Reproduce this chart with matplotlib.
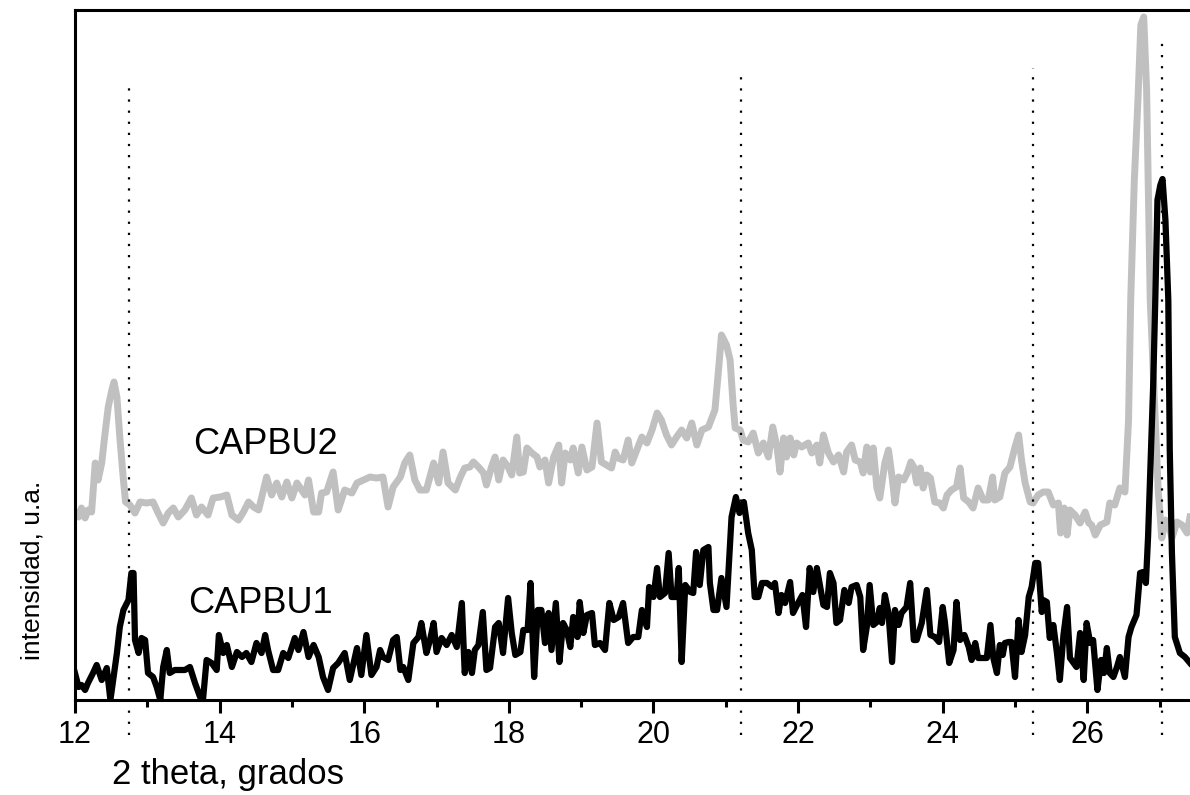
import matplotlib
matplotlib.use('Agg')
import matplotlib.pyplot as plt

# CAPBU2 (gris)
theta_capbu2 = [12.00, 12.05, 12.09, 12.14, 12.18, 12.23, 12.28, 12.32, 12.37, 12.41,
                12.46, 12.51, 12.54, 12.58, 12.62, 12.67, 12.70, 12.76, 12.83, 12.90,
                12.99, 13.08, 13.15, 13.22, 13.29, 13.36, 13.43, 13.52, 13.61, 13.68,
                13.75, 13.84, 13.91, 14.01, 14.10, 14.17, 14.26, 14.33, 14.40, 14.47,
                14.54, 14.58, 14.65, 14.72, 14.79, 14.86, 14.93, 15.00, 15.07, 15.18,
                15.23, 15.30, 15.37, 15.41, 15.48, 15.57, 15.64, 15.73, 15.83, 15.90,
                15.99, 16.08, 16.17, 16.26, 16.33, 16.40, 16.50, 16.56, 16.63, 16.70,
                16.77, 16.86, 16.96, 17.03, 17.09, 17.16, 17.26, 17.33, 17.39, 17.46,
                17.51, 17.58, 17.65, 17.69, 17.76, 17.81, 17.86, 17.92, 17.99, 18.04,
                18.11, 18.15, 18.20, 18.25, 18.32, 18.39, 18.43, 18.50, 18.55, 18.62,
                18.69, 18.73, 18.78, 18.85, 18.89, 18.96, 19.01, 19.08, 19.15, 19.22,
                19.28, 19.35, 19.42, 19.47, 19.51, 19.58, 19.65, 19.70, 19.77, 19.84,
                19.91, 19.98, 20.05, 20.11, 20.18, 20.25, 20.32, 20.39, 20.46, 20.53,
                20.60, 20.67, 20.76, 20.85, 20.90, 20.94, 21.01, 21.06, 21.10, 21.13,
                21.20, 21.24, 21.31, 21.38, 21.45, 21.52, 21.59, 21.65, 21.71, 21.75,
                21.80, 21.84, 21.89, 21.94, 21.98, 22.05, 22.14, 22.19, 22.26, 22.30,
                22.35, 22.42, 22.49, 22.56, 22.63, 22.67, 22.74, 22.79, 22.86, 22.90,
                22.95, 23.00, 23.04, 23.09, 23.13, 23.20, 23.25, 23.30, 23.34, 23.39,
                23.46, 23.51, 23.56, 23.60, 23.64, 23.69, 23.73, 23.78, 23.83, 23.89,
                23.96, 24.01, 24.06, 24.12, 24.19, 24.24, 24.29, 24.36, 24.42, 24.49,
                24.56, 24.63, 24.69, 24.72, 24.79, 24.86, 24.93, 25.00, 25.05, 25.09,
                25.14, 25.21, 25.25, 25.32, 25.39, 25.46, 25.53, 25.60, 25.63, 25.68,
                25.72, 25.76, 25.83, 25.90, 25.97, 26.02, 26.06, 26.11, 26.18, 26.27,
                26.31, 26.38, 26.45, 26.52, 26.57, 26.60, 26.65, 26.70, 26.74, 26.78,
                26.82, 26.87, 26.91, 26.94, 26.98, 27.03, 27.08, 27.12, 27.17, 27.24,
                27.31, 27.38, 27.42]
int_capbu2 = [188, 183, 192, 182, 190, 188, 237, 220, 237, 263,
              293, 310, 318, 303, 263, 220, 198, 195, 187, 198,
              197, 198, 187, 177, 187, 192, 183, 190, 202, 185,
              193, 185, 202, 203, 205, 185, 180, 188, 198, 193,
              190, 202, 223, 205, 217, 203, 218, 202, 217, 205,
              220, 188, 188, 207, 208, 228, 190, 210, 207, 217,
              220, 223, 222, 223, 193, 213, 223, 237, 245, 220,
              210, 210, 237, 217, 248, 217, 210, 223, 232, 233,
              238, 233, 227, 215, 233, 243, 220, 240, 233, 225,
              263, 227, 228, 252, 247, 243, 233, 240, 217, 243,
              255, 217, 247, 240, 252, 227, 253, 230, 233, 277,
              238, 235, 232, 248, 242, 240, 260, 237, 250, 263,
              257, 270, 287, 280, 265, 255, 263, 270, 262, 277,
              255, 270, 273, 290, 330, 365, 355, 340, 297, 272,
              270, 260, 258, 267, 247, 257, 243, 273, 252, 228,
              262, 243, 262, 245, 257, 253, 257, 247, 255, 237,
              265, 247, 238, 245, 228, 248, 255, 240, 238, 227,
              253, 228, 252, 212, 202, 237, 250, 223, 197, 223,
              220, 227, 238, 233, 217, 232, 212, 225, 222, 198,
              197, 192, 205, 210, 213, 232, 202, 198, 192, 212,
              200, 200, 223, 200, 203, 227, 233, 253, 265, 240,
              217, 198, 197, 205, 208, 208, 195, 197, 167, 192,
              165, 190, 185, 177, 188, 177, 175, 165, 175, 178,
              197, 195, 212, 208, 280, 400, 520, 600, 675, 683,
              610, 400, 330, 280, 210, 162, 180, 177, 162, 178,
              175, 167, 183]

# CAPBU1 (negro)
theta_capbu1 = [12.00, 12.05, 12.09, 12.14, 12.18, 12.25, 12.30, 12.37, 12.44, 12.49,
                12.58, 12.62, 12.67, 12.74, 12.78, 12.81, 12.83, 12.88, 12.92, 12.97,
                13.01, 13.08, 13.13, 13.18, 13.22, 13.27, 13.31, 13.38, 13.45, 13.52,
                13.59, 13.66, 13.73, 13.77, 13.82, 13.89, 13.96, 13.99, 14.05, 14.10,
                14.17, 14.24, 14.31, 14.37, 14.44, 14.51, 14.58, 14.63, 14.67, 14.74,
                14.81, 14.88, 14.95, 15.04, 15.09, 15.16, 15.23, 15.30, 15.37, 15.43,
                15.50, 15.57, 15.64, 15.73, 15.80, 15.90, 15.96, 16.03, 16.10, 16.17,
                16.22, 16.26, 16.33, 16.40, 16.45, 16.50, 16.54, 16.61, 16.68, 16.75,
                16.79, 16.86, 16.91, 16.96, 17.00, 17.07, 17.14, 17.21, 17.28, 17.35,
                17.39, 17.44, 17.49, 17.53, 17.58, 17.64, 17.69, 17.74, 17.81, 17.86,
                17.92, 17.99, 18.04, 18.09, 18.16, 18.20, 18.26, 18.30, 18.35, 18.40,
                18.45, 18.50, 18.55, 18.59, 18.65, 18.70, 18.75, 18.80, 18.85, 18.89,
                18.95, 18.98, 19.03, 19.08, 19.15, 19.19, 19.26, 19.33, 19.39, 19.45,
                19.52, 19.58, 19.65, 19.72, 19.79, 19.84, 19.91, 19.94, 20.00, 20.05,
                20.09, 20.16, 20.21, 20.25, 20.32, 20.35, 20.39, 20.44, 20.51, 20.55,
                20.59, 20.64, 20.69, 20.76, 20.78, 20.83, 20.88, 20.94, 21.01, 21.08,
                21.14, 21.19, 21.25, 21.31, 21.36, 21.40, 21.45, 21.50, 21.57, 21.64,
                21.68, 21.73, 21.77, 21.82, 21.89, 21.93, 22.00, 22.06, 22.11, 22.16,
                22.21, 22.26, 22.35, 22.40, 22.44, 22.49, 22.53, 22.58, 22.64, 22.70,
                22.74, 22.81, 22.86, 22.90, 22.95, 22.99, 23.04, 23.09, 23.13, 23.16,
                23.20, 23.25, 23.30, 23.34, 23.39, 23.43, 23.50, 23.55, 23.60, 23.64,
                23.71, 23.78, 23.83, 23.89, 23.95, 24.00, 24.03, 24.09, 24.15, 24.19,
                24.24, 24.30, 24.36, 24.40, 24.45, 24.49, 24.56, 24.61, 24.66, 24.70,
                24.75, 24.79, 24.83, 24.86, 24.91, 24.95, 25.00, 25.05, 25.09, 25.14,
                25.19, 25.23, 25.28, 25.32, 25.37, 25.39, 25.44, 25.48, 25.53, 25.58,
                25.62, 25.67, 25.72, 25.76, 25.81, 25.85, 25.90, 25.95, 25.99, 26.04,
                26.08, 26.14, 26.19, 26.23, 26.27, 26.31, 26.36, 26.41, 26.45, 26.52,
                26.57, 26.61, 26.68, 26.73, 26.77, 26.81, 26.84, 26.88, 26.91, 26.94,
                26.97, 27.01, 27.04, 27.08, 27.12, 27.14, 27.17, 27.21, 27.28, 27.35,
                27.42]
int_capbu1 = [27, 13, 15, 10, 17, 27, 35, 20, 32, 0,
              47, 73, 90, 100, 127, 127, 60, 47, 62, 60,
              27, 23, 13, 0, 33, 50, 27, 30, 30, 30,
              33, 17, 3, 0, 40, 37, 30, 65, 47, 55,
              33, 48, 43, 47, 38, 57, 47, 65, 50, 30,
              30, 47, 42, 62, 50, 68, 43, 55, 43, 23,
              10, 32, 37, 47, 20, 52, 25, 65, 25, 33,
              50, 43, 40, 60, 63, 30, 33, 20, 57, 63,
              77, 47, 60, 77, 48, 62, 55, 65, 53, 97,
              27, 48, 27, 50, 55, 88, 30, 32, 73, 77,
              47, 102, 67, 45, 48, 70, 70, 117, 23, 90,
              90, 57, 87, 50, 97, 38, 77, 70, 53, 83,
              63, 98, 67, 85, 87, 55, 57, 50, 97, 80,
              83, 97, 57, 63, 63, 90, 73, 113, 103, 132,
              103, 107, 147, 103, 103, 132, 38, 115, 108, 107,
              148, 115, 150, 153, 117, 90, 90, 122, 93, 183,
              203, 187, 198, 167, 150, 103, 103, 117, 117, 113,
              117, 87, 105, 97, 118, 87, 97, 105, 73, 132,
              108, 132, 95, 93, 127, 117, 77, 80, 110, 97,
              113, 115, 103, 50, 73, 115, 75, 78, 92, 77,
              105, 87, 38, 90, 75, 87, 93, 117, 60, 60,
              77, 110, 65, 63, 58, 93, 78, 37, 50, 98,
              60, 65, 53, 40, 57, 42, 42, 42, 75, 42,
              27, 55, 45, 57, 58, 58, 23, 80, 48, 65,
              103, 113, 137, 137, 88, 100, 98, 62, 75, 47,
              20, 65, 93, 42, 37, 33, 67, 20, 77, 57,
              60, 10, 40, 27, 52, 27, 23, 33, 43, 23,
              63, 73, 85, 127, 128, 117, 163, 247, 313, 400,
              500, 515, 521, 480, 400, 250, 147, 63, 47, 43,
              37]

# lineas punteadas de referencia
peak_theta = [12.75, 21.21, 25.25, 27.03]
peak_line_top = [612, 627, 632, 663]
peak_line_bottom = -35

xticks_major = [12, 14, 16, 18, 20, 22, 24, 26]
xticks_minor = [13, 15, 17, 19, 21, 23, 25, 27]

plt.rcParams['font.family'] = ['Liberation Sans', 'DejaVu Sans']

fig = plt.figure(figsize=(11.9, 7.95), dpi=100)
ax = fig.add_axes([0.0630, 0.1195, 0.9370, 0.8679])

ax.plot(theta_capbu2, int_capbu2, color='#c0c0c0', lw=5, zorder=2)
ax.plot(theta_capbu1, int_capbu1, color='black', lw=4.5, zorder=3)

ax.vlines(peak_theta, peak_line_bottom, peak_line_top, colors='black',
          linestyles=(0, (1, 4)), lw=1.6, clip_on=False, zorder=4)

ax.text(14.64, 256, 'CAPBU2', fontsize=26, ha='center', va='center')
ax.text(14.56, 97, 'CAPBU1', fontsize=26, ha='center', va='center')

ax.set_xlim(12, 27.42)
ax.set_ylim(0, 690)
ax.set_xticks(xticks_major)
ax.set_xticks(xticks_minor, minor=True)
ax.set_yticks([])
ax.tick_params(axis='x', which='major', direction='out', length=9.5, width=2.2,
               labelsize=22, pad=5)
ax.tick_params(axis='x', which='minor', direction='out', length=5, width=2.2)

for side in ['left', 'bottom', 'top']:
    ax.spines[side].set_linewidth(2.2)
ax.spines['right'].set_visible(False)

ax.set_xlabel('2 theta, grados', fontsize=25)
ax.xaxis.set_label_coords(0.137, -0.084)
ax.set_ylabel('intensidad, u.a.', fontsize=19)
ax.yaxis.set_label_coords(-0.027, 0.188)

fig.savefig('out.png', dpi=100)
